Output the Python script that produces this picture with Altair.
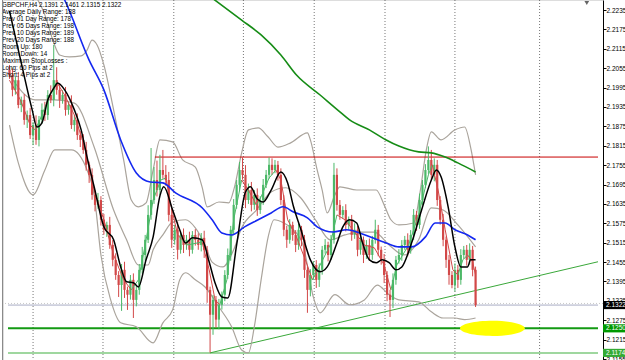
import altair as alt
import pandas as pd

# ---------------- data (prices as pips above 2.1000) ----------------
BASE = 2.1000
PIP = 0.0001

FIRST_OPEN_PIPS = 1050
CLOSE_PIPS = [
    1034, 988, 1018, 941, 957, 895, 910, 848, 879, 833,
    895, 926, 910, 972, 957, 1018, 988, 957, 972, 926,
    941, 879, 895, 848, 833, 802, 756, 725, 663, 632,
    647, 586, 555, 570, 508, 462, 415, 384, 431, 369,
    354, 400, 338, 369, 431, 477, 524, 601, 647, 709,
    678, 740, 725, 709, 601, 524, 555, 493, 539, 508,
    524, 493, 539, 524, 508, 530, 493, 369, 292, 338,
    277, 323, 354, 415, 477, 555, 632, 694, 740, 725,
    647, 678, 632, 663, 616, 647, 694, 725, 756, 740,
    756, 725, 647, 555, 524, 570, 539, 508, 555, 524,
    431, 369, 415, 446, 400, 431, 493, 508, 477, 524,
    725, 632, 601, 616, 570, 586, 539, 555, 493, 524,
    477, 508, 477, 524, 555, 493, 462, 415, 354, 338,
    400, 462, 477, 508, 524, 493, 539, 601, 570, 647,
    694, 740, 771, 725, 756, 647, 586, 524, 462, 415,
    384, 431, 400, 477, 493, 462, 493, 431, 322,
]
UPPER_WICK_PIPS = [
    15, 20, 12, 25, 10, 18, 14, 22, 10, 30,
    12, 20, 25, 15, 30, 109, 40, 20, 15, 25,
    10, 30, 15, 20, 12, 18, 25, 10, 20, 15,
    22, 12, 18, 10, 25, 15, 20, 12, 18, 25,
    10, 15, 20, 12, 18, 25, 15, 30, 161, 40,
    60, 47, 62, 30, 25, 20, 15, 25, 12, 20,
    15, 25, 12, 18, 20, 15, 22, 12, 10, 15,
    12, 18, 10, 15, 20, 12, 18, 15, 25, 39,
    30, 20, 25, 15, 20, 12, 18, 15, 23, 20,
    15, 12, 20, 15, 12, 18, 10, 15, 20, 12,
    15, 10, 18, 12, 15, 20, 12, 18, 10, 15,
    37, 20, 15, 12, 18, 10, 15, 20, 12, 18,
    10, 15, 20, 12, 31, 15, 10, 18, 12, 15,
    20, 12, 18, 15, 12, 20, 15, 18, 12, 20,
    15, 18, 42, 31, 20, 15, 12, 18, 10, 15,
    12, 20, 15, 18, 12, 15, 20, 12, 10,
]
LOWER_WICK_PIPS = [
    12, 20, 15, 10, 22, 15, 25, 12, 31, 15,
    20, 12, 18, 15, 10, 20, 15, 25, 12, 18,
    15, 12, 20, 15, 22, 12, 18, 25, 15, 20,
    12, 18, 15, 22, 12, 20, 15, 37, 80, 25,
    47, 15, 56, 20, 15, 12, 18, 10, 15, 12,
    20, 15, 12, 18, 20, 25, 15, 30, 12, 25,
    15, 20, 12, 18, 15, 20, 25, 40, 117, 62,
    25, 30, 15, 20, 12, 18, 15, 12, 20, 15,
    25, 12, 20, 15, 18, 12, 15, 10, 12, 15,
    10, 18, 15, 20, 25, 12, 18, 22, 15, 20,
    25, 71, 20, 15, 25, 22, 15, 12, 20, 15,
    12, 18, 15, 12, 20, 15, 18, 12, 20, 15,
    25, 12, 18, 15, 12, 20, 15, 25, 20, 53,
    25, 15, 12, 18, 15, 20, 12, 15, 18, 12,
    15, 10, 12, 15, 20, 18, 15, 20, 25, 30,
    10, 20, 25, 15, 12, 18, 15, 20, 6,
]

# indicator readings: (bar index, pips above 2.1000)
BLACK_MA = [(0, 1232), (4.3, 1059), (7.7, 926), (9.3, 873), (11, 886), (13, 957), (15.3, 997),
            (16.3, 1009), (18.7, 988), (22, 926), (24.3, 864), (26.3, 780), (28.7, 688), (32, 564),
            (35.3, 524), (37.7, 440), (39.7, 394), (42, 391), (43.7, 378), (46.3, 462), (48.7, 533),
            (51, 660), (52.3, 688), (55.3, 616), (57.7, 555), (59.7, 514), (62, 530), (65.3, 524),
            (67.7, 455), (69.7, 390), (72, 347), (74, 344), (77, 508), (80, 672), (81.7, 688),
            (84, 650), (86, 641), (88.7, 678), (92, 734), (94.3, 700), (96.3, 626),
            (98.7, 558), (102, 462), (105.3, 425), (107.7, 440), (111, 514), (113, 564), (115.3, 586),
            (117.7, 576), (119.7, 514), (122, 462), (124.3, 453), (126.3, 462), (128.7, 453),
            (131, 431), (133, 440), (136.3, 514), (139.7, 616), (143, 709), (144.7, 740),
            (146.3, 719), (148.7, 626), (151, 502), (153, 440), (155.3, 440), (156.3, 462), (158, 462)]
BLUE_MA = [(17.0, 1297), (18.7, 1266), (27.0, 1080), (32.0, 988), (37.7, 833), (43.0, 731),
           (47.7, 703), (52.0, 700), (56.3, 669), (65.3, 623), (68.7, 586), (72.0, 545), (75.3, 539),
           (79.7, 564), (84.3, 586), (88.7, 607), (92.7, 626), (96.3, 610), (101.0, 592), (104.3, 564),
           (109.7, 548), (114.3, 555), (118.7, 545), (123.0, 530), (127.7, 514), (132.0, 502),
           (136.3, 502), (141.0, 533), (144.3, 576), (147.7, 576), (151.0, 555), (155.3, 539), (158.0, 524)]
GREEN_MA = [(68.7, 1272), (78.7, 1204), (85.3, 1158), (92.0, 1096), (97.3, 1034), (105.3, 972),
            (112.0, 920), (115.3, 895), (122.0, 864), (127.7, 833), (132.0, 814), (138.7, 796),
            (143.0, 793), (147.7, 780), (152.0, 762), (158.0, 734)]
FAST_MA = [(0, 1018), (3.7, 957), (7, 879), (8.7, 864), (10.3, 895), (13.7, 972), (16, 1012),
           (18.7, 972), (22, 910), (25.3, 817), (28.7, 678), (32, 586), (35.3, 477), (38.7, 400),
           (41.3, 369), (43.7, 400), (46, 508), (48.7, 647), (51.3, 709), (53, 715), (54.7, 632),
           (57, 539), (60.3, 508), (65.3, 517), (67.7, 431), (69.7, 338), (71.3, 323), (73.7, 400),
           (76, 586), (78.7, 709), (81, 678), (83.7, 632), (85.3, 657), (88, 715), (90.3, 740),
           (92, 709), (94.3, 586), (97, 539), (100.3, 462), (102.7, 400), (105.3, 446), (108.7, 508),
           (111, 601), (113.7, 586), (117, 548), (120.3, 508), (123.7, 499), (127, 446), (129.3, 369),
           (131.3, 446), (135.3, 508), (138.7, 601), (142, 725), (143.3, 756), (145.3, 678),
           (147.7, 555), (150.3, 431), (152, 415), (153.7, 462), (155.3, 477), (157, 456), (158, 415)]
BB_UPPER = [(8.7, 1281), (12, 1220), (14.7, 1142), (17, 1096), (20.3, 1090), (24.3, 1093), (26.3, 1111),
            (28, 1142), (29.7, 1127), (32, 1065), (35.3, 926), (38.7, 771), (41.3, 647), (43.7, 626),
            (46.3, 638), (48.7, 740), (51, 833), (55.3, 827), (58.7, 771), (63, 749), (65.3, 687),
            (67, 626), (71, 641), (74.3, 638), (76.3, 688), (78.7, 793), (81, 864), (84.3, 870),
            (87.7, 842), (91, 811), (95.3, 824), (101, 855), (102, 833), (104.3, 740), (106, 678),
            (107.7, 607), (110.3, 663), (112, 688), (117.7, 678), (124.3, 678), (127, 632),
            (129.3, 586), (132, 570), (137, 576), (139.3, 678), (141.3, 802), (143, 858), (146.3, 833),
            (151, 864), (154.3, 873), (156.3, 811), (158, 725)]
BB_MIDDLE = [(0, 1034), (8.7, 957), (15.3, 957), (22, 947), (28.7, 811), (35.3, 616), (39.7, 524),
             (43.7, 446), (47, 446), (48.7, 493), (52, 539), (55.3, 579), (59.7, 586), (63, 561),
             (66.3, 508), (68.7, 455), (72.3, 440), (76, 493), (78.7, 561), (83.7, 616), (88.7, 672),
             (93.7, 685), (98.7, 654), (103.7, 586), (108.7, 524), (113.7, 539), (118.7, 548),
             (123.7, 548), (128.7, 508), (133.7, 477), (138.7, 524), (143, 623), (147, 616),
             (152, 570), (158, 502)]
BB_LOWER = [(0, 879), (3, 762), (8, 663), (12, 740), (15.3, 802), (21, 802), (26.3, 740), (28.7, 663),
            (31, 477), (34.3, 338), (37.7, 267), (43, 255), (48.7, 205), (52, 267), (55.3, 307),
            (57.7, 400), (59.7, 422), (63, 400), (66.3, 378), (71, 316), (75.3, 255), (78.7, 183),
            (81, 174), (83, 255), (85.3, 400), (87.7, 533), (89.7, 586), (93, 576), (96.3, 555),
            (99.7, 502), (103, 347), (105.3, 298), (110.3, 354), (115.3, 323), (120.3, 338),
            (124.7, 384), (128.7, 354), (132, 338), (138.7, 332), (143, 301), (147, 282), (151, 282),
            (154.3, 277), (158, 282)]

Y_TICKS = [2.2235, 2.2175, 2.2115, 2.2055, 2.1995, 2.1935, 2.1875, 2.1815, 2.1755, 2.1695,
           2.1635, 2.1575, 2.1515, 2.1455, 2.1395, 2.1335, 2.1275, 2.1215, 2.1155]
GRID_BARS = [8, 31.7, 55.7, 79.3, 103.3, 127.3, 151, 179.7]

RESIST_PRICE, RESIST_FROM = 2.1780, 49.3
SUPPORT_PRICE = 2.1250
LOW_PRICE = 2.1174
BID_PRICE = 2.1322
ASK_PRICE = 2.1327
TREND = (68.0, 2.1174, 199.5, 2.1456)
ELLIPSE = (163.7, 2.1250)
MARKER = (195.7, 2.2257)

INFO_LINES = [
    "GBPCHF,H4  2.1391 2.1461 2.1315 2.1322",
    " Average Daily Range: 188",
    " Prev 01  Day  Range: 178",
    " Prev 05  Days Range: 198",
    " Prev 10  Days Range: 189",
    " Prev 20  Days Range: 188",
    " Room Up:      180",
    " Room Down:  14",
    " Maximum StopLosses :",
    " Long:  60 Pips at 2",
    " Short: 4 Pips at 2",
]
PRICE_TAGS = [("2.1322", 2.1322, "#000000"), ("2.1250", 2.1250, "#009900"), ("2.1174", 2.1174, "#33aa33")]

# ---------------- tables ----------------
opens = [FIRST_OPEN_PIPS] + CLOSE_PIPS[:-1]
rows = []
for i, (o, c, uw, lw) in enumerate(zip(opens, CLOSE_PIPS, UPPER_WICK_PIPS, LOWER_WICK_PIPS)):
    rows.append({
        "i": i,
        "p": BASE + o * PIP,
        "close": BASE + c * PIP,
        "high": BASE + (max(o, c) + uw) * PIP,
        "low": BASE + (min(o, c) - lw) * PIP,
        "dir": "up" if c >= o else "down",
    })
candles = pd.DataFrame(rows)


def line_df(points, name):
    return pd.DataFrame({"i": [p[0] for p in points],
                         "p": [BASE + p[1] * PIP for p in points],
                         "name": name})


fast_rows = []
for (a, b) in zip(FAST_MA[:-1], FAST_MA[1:]):
    fast_rows.append({"i": a[0], "p": BASE + a[1] * PIP, "i2": b[0], "p2": BASE + b[1] * PIP,
                      "dir": "up" if b[1] >= a[1] else "down"})
fast = pd.DataFrame(fast_rows)

XS = alt.Scale(domain=[-0.5, 199.5], nice=False, zero=False)
YS = alt.Scale(domain=[2.1152, 2.2266], nice=False, zero=False)
YAXIS = alt.Axis(
    orient="right", values=Y_TICKS, format=".4f", title=None, grid=False,
    labelFont="Liberation Sans", labelFontSize=6.5, labelColor="#000000",
    labelPadding=0, tickSize=3, tickColor="#000000", domainColor="#000000",
    labelOverlap=False, labelFlush=False, labelBound=False)


def X(field="i"):
    return alt.X(f"{field}:Q", scale=XS, axis=None)


def Y(field="p"):
    return alt.Y(f"{field}:Q", scale=YS, axis=YAXIS)


grid = alt.Chart(pd.DataFrame({"i": GRID_BARS})).mark_rule(
    color="#555555", strokeDash=[1, 2], strokeWidth=1, opacity=0.8
).encode(x=X())

hl = pd.DataFrame([
    {"p": LOW_PRICE, "i": -0.5, "i2": 199.5, "k": "low"},
    {"p": SUPPORT_PRICE, "i": -0.5, "i2": 199.5, "k": "support"},
    {"p": BID_PRICE, "i": -0.5, "i2": 199.5, "k": "bid"},
    {"p": RESIST_PRICE, "i": RESIST_FROM, "i2": 199.5, "k": "resist"},
])
hl_low = alt.Chart(hl[hl.k == "low"]).mark_rule(color="#9fd79f", strokeWidth=2).encode(x=X(), x2="i2:Q", y=Y())
hl_sup = alt.Chart(hl[hl.k == "support"]).mark_rule(color="#139a13", strokeWidth=2).encode(x=X(), x2="i2:Q", y=Y())
hl_bid = alt.Chart(hl[hl.k == "bid"]).mark_rule(color="#a8acc4", strokeWidth=1).encode(x=X(), x2="i2:Q", y=Y())
hl_ask = alt.Chart(pd.DataFrame({"p": [ASK_PRICE]})).mark_rule(
    color="#c8c8c8", strokeWidth=1, strokeDash=[1, 2]).encode(y=Y())
hl_res = alt.Chart(hl[hl.k == "resist"]).mark_rule(color="#c80000", strokeWidth=1).encode(x=X(), x2="i2:Q", y=Y())

trend = alt.Chart(pd.DataFrame([{"i": TREND[0], "p": TREND[1], "i2": TREND[2], "p2": TREND[3]}])).mark_rule(
    color="#3aa83a", strokeWidth=1
).encode(x=X(), y=Y(), x2="i2:Q", y2="p2:Q")

bb = alt.Chart(pd.concat([line_df(BB_UPPER, "upper"), line_df(BB_MIDDLE, "middle"),
                          line_df(BB_LOWER, "lower")])).mark_line(
    color="#aaa49c", strokeWidth=1.2, interpolate="monotone", clip=True
).encode(x=X(), y=Y(), detail="name:N")

wick_colors = alt.Scale(domain=["up", "down"], range=["#4cb868", "#d24848"])
body_colors = alt.Scale(domain=["up", "down"], range=["#1f9e44", "#c40e0e"])

wicks = alt.Chart(candles).mark_rule(strokeWidth=1).encode(
    x=X(), y=Y("low"), y2="high:Q", color=alt.Color("dir:N", scale=wick_colors, legend=None))
bodies = alt.Chart(candles).mark_bar(size=2.2).encode(
    x=X(), y=Y("p"), y2="close:Q", color=alt.Color("dir:N", scale=body_colors, legend=None))

fast_ma = alt.Chart(fast).mark_rule(strokeWidth=1).encode(
    x=X(), y=Y(), x2="i2:Q", y2="p2:Q",
    color=alt.Color("dir:N", scale=alt.Scale(domain=["up", "down"], range=["#14a03c", "#c00c0c"]), legend=None))

blue = alt.Chart(line_df(BLUE_MA, "blue")).mark_line(
    color="#1428f0", strokeWidth=1.6, interpolate="monotone", clip=True).encode(x=X(), y=Y())
green = alt.Chart(line_df(GREEN_MA, "green")).mark_line(
    color="#168c16", strokeWidth=1.6, interpolate="monotone", clip=True).encode(x=X(), y=Y())
black = alt.Chart(line_df(BLACK_MA, "black")).mark_line(
    color="#000000", strokeWidth=1.5, interpolate="monotone", clip=True).encode(x=X(), y=Y())

ellipse = alt.Chart(pd.DataFrame([{"i": ELLIPSE[0], "p": ELLIPSE[1]}])).mark_point(
    shape="M -1 0 A 1 0.235 0 1 0 1 0 A 1 0.235 0 1 0 -1 0 Z",
    size=4200, filled=True, color="#ffff00", opacity=1, strokeWidth=0
).encode(x=X(), y=Y())

marker = alt.Chart(pd.DataFrame([{"i": MARKER[0], "p": MARKER[1]}])).mark_point(
    shape="triangle-down", size=22, filled=True, color="#666666", opacity=1
).encode(x=X(), y=Y())

info = alt.Chart(pd.DataFrame({"t": ["\n".join(INFO_LINES)]})).mark_text(
    align="left", baseline="top", font="Liberation Sans", fontSize=6.3, lineHeight=7,
    lineBreak="\n", color="#000000"
).encode(x=alt.value(-1), y=alt.value(2), text="t:N")

tags_df = pd.DataFrame([{"label": t[0], "p": t[1], "c": t[2]} for t in PRICE_TAGS])
tag_boxes = alt.Chart(tags_df).mark_point(
    shape="M -1 -0.37 L 1 -0.37 L 1 0.37 L -1 0.37 Z", size=484, filled=True, opacity=1, strokeWidth=0
).encode(x=alt.value(611), y=Y(), color=alt.Color("c:N", scale=None))
tag_text = alt.Chart(tags_df).mark_text(
    align="left", baseline="middle", font="Liberation Sans", fontSize=6.5, color="#ffffff"
).encode(x=alt.value(603), y=Y(), text="label:N")

frame = alt.Chart(pd.DataFrame({"a": [0]})).mark_rule(color="#8a8a8a", strokeWidth=1).encode(
    x=alt.value(-0.5), y=alt.value(0), y2=alt.value(360))

chart = alt.layer(
    grid, hl_low, hl_sup, hl_ask, hl_bid, trend, bb, hl_res,
    wicks, bodies, fast_ma, blue, green, black, ellipse, marker, info,
    tag_boxes, tag_text, frame
).properties(
    width=600, height=360,
    padding={"left": 3, "right": 22, "top": 0, "bottom": 0},
    autosize=alt.AutoSizeParams(type="none"),
).configure_view(stroke=None).configure(background="#ffffff")

chart.save("out.html", embed_options={"renderer": "svg", "actions": False})
